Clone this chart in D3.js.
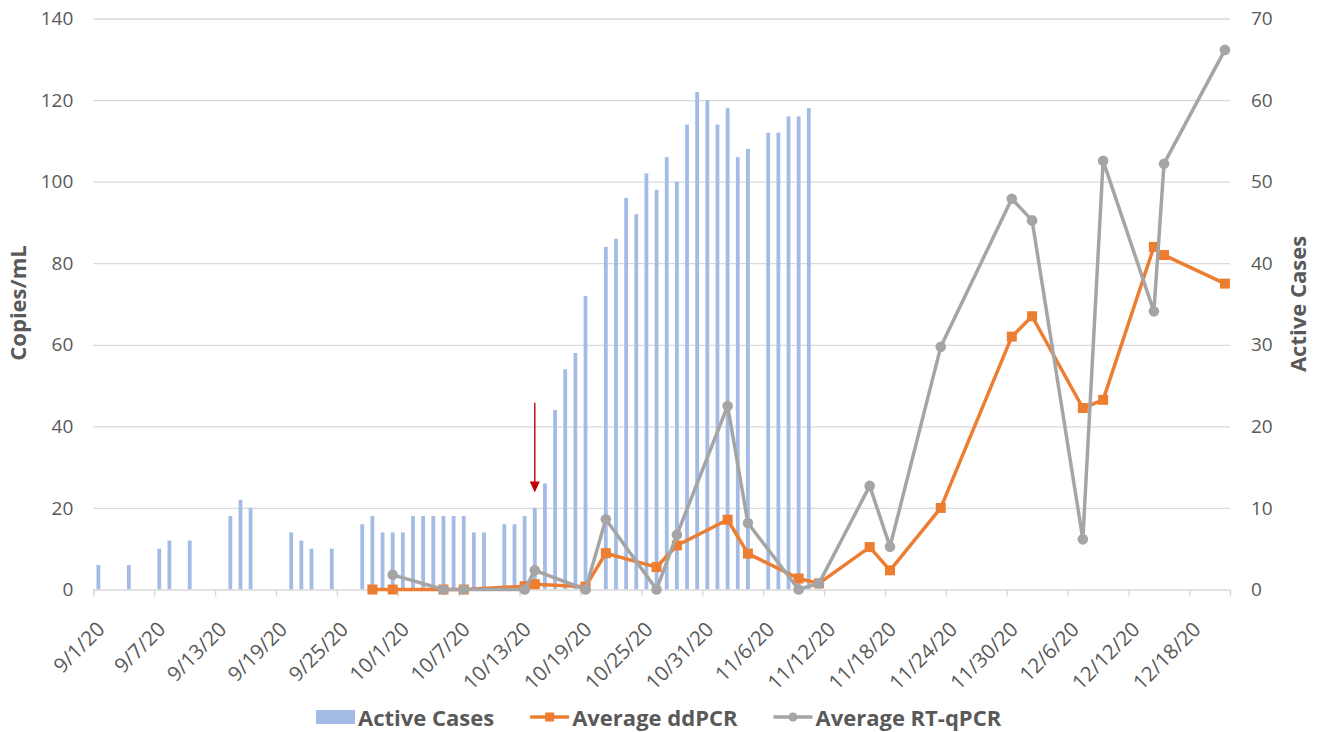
<!DOCTYPE html>
<html>
<head>
<meta charset="utf-8">
<script src="https://cdn.jsdelivr.net/npm/d3@7"></script>
<style>
  body { margin: 0; background: #fff; }
  svg { font-family: "Open Sans", sans-serif; }
</style>
</head>
<body>
<svg id="chart" width="1323" height="732"></svg>
<script>
// active cases (right axis, bars)
var caseDates = ["9/1/20","9/4/20","9/7/20","9/8/20","9/10/20","9/14/20","9/15/20","9/16/20",
  "9/20/20","9/21/20","9/22/20","9/24/20","9/27/20","9/28/20","9/29/20","9/30/20",
  "10/1/20","10/2/20","10/3/20","10/4/20","10/5/20","10/6/20","10/7/20","10/8/20","10/9/20",
  "10/11/20","10/12/20","10/13/20","10/14/20","10/15/20","10/16/20","10/17/20","10/18/20","10/19/20",
  "10/21/20","10/22/20","10/23/20","10/24/20","10/25/20","10/26/20","10/27/20","10/28/20","10/29/20",
  "10/30/20","10/31/20","11/1/20","11/2/20","11/3/20","11/4/20","11/6/20","11/7/20","11/8/20",
  "11/9/20","11/10/20"];
var activeCases = [3,3,5,6,6,9,11,10,
  7,6,5,5,8,9,7,7,
  7,9,9,9,9,9,9,7,7,
  8,8,9,10,13,22,27,29,36,
  42,43,48,46,51,49,53,50,57,
  61,60,57,59,53,54,56,56,58,
  58,59];

// Average ddPCR (left axis)
var ddDates = ["9/28/20","9/30/20","10/5/20","10/7/20","10/13/20","10/14/20","10/19/20","10/21/20",
  "10/26/20","10/28/20","11/2/20","11/4/20","11/9/20","11/11/20","11/16/20","11/18/20",
  "11/23/20","11/30/20","12/2/20","12/7/20","12/9/20","12/14/20","12/15/20","12/21/20"];
var ddPCR = [0,0,0,0,0.8,1.3,0.7,8.9,
  5.5,10.8,17.1,8.8,2.7,1.5,10.4,4.7,
  20,62,67,44.5,46.5,84,82,75];

// Average RT-qPCR (left axis)
var rtDates = ["9/30/20","10/5/20","10/7/20","10/13/20","10/14/20","10/19/20","10/21/20",
  "10/26/20","10/28/20","11/2/20","11/4/20","11/9/20","11/11/20","11/16/20","11/18/20",
  "11/23/20","11/30/20","12/2/20","12/7/20","12/9/20","12/14/20","12/15/20","12/21/20"];
var rtPCR = [3.6,0,0,0,4.7,0,17.2,
  0,13.4,45,16.3,0,1.5,25.4,10.5,
  59.5,95.8,90.5,12.3,105.1,68.2,104.4,132.3];

var leftTicks = [0,20,40,60,80,100,120,140];
var rightTicks = [0,10,20,30,40,50,60,70];
var xStart = "9/1/20", xEnd = "12/22/20";

// red arrow marker (date, from / to in copies/mL)
var arrowDate = "10/14/20", arrowFrom = 45.8, arrowTo = 23.8;

var legendNames = ["Active Cases", "Average ddPCR", "Average RT-qPCR"];

(function(){

    var parse = d3.utcParse("%m/%d/%y");
    var fmt = d3.utcFormat("%-m/%-d/%y");

    var plotLeft = 93.3, plotRight = 1230, plotTop = 18.5, plotBottom = 589.5;
    var blue = "#a3bbe5", orange = "#ed7d31", gray = "#a5a5a5", txt = "#595959", grid = "#d9d9d9";

    var svg = d3.select("svg#chart");

    var x = d3.scaleUtc().domain([parse(xStart), parse(xEnd)]).range([plotLeft, plotRight]);
    var yL = d3.scaleLinear().domain([0, 140]).range([plotBottom, plotTop]);
    var yR = d3.scaleLinear().domain([0, 70]).range([plotBottom, plotTop]);

    // center of a day
    function xc(d) { return x(d3.utcHour.offset(d, 12)); }

    // gridlines
    svg.append("g")
        .attr("transform", "translate(" + plotLeft + ",0)")
        .call(d3.axisLeft(yL).tickValues(leftTicks.slice(1)).tickSize(-(plotRight - plotLeft)).tickFormat(""))
        .call(g => g.select(".domain").remove())
        .selectAll("line").attr("stroke", grid).attr("stroke-width", 1.3);

    // left axis labels
    svg.append("g")
        .attr("transform", "translate(" + (plotLeft - 20) + ",0)")
        .call(d3.axisLeft(yL).tickValues(leftTicks).tickSize(0).tickPadding(0))
        .call(g => g.select(".domain").remove())
        .selectAll("text")
        .attr("fill", txt).style("font-size", "19px").attr("font-family", "Open Sans");

    // right axis labels
    svg.append("g")
        .attr("transform", "translate(" + (plotRight + 21) + ",0)")
        .call(d3.axisRight(yR).tickValues(rightTicks).tickSize(0).tickPadding(0))
        .call(g => g.select(".domain").remove())
        .selectAll("text")
        .attr("fill", txt).style("font-size", "19px").attr("font-family", "Open Sans");

    // bars
    var bars = caseDates.map((d, i) => ({date: parse(d), v: activeCases[i]}));
    svg.append("g")
        .selectAll("rect")
        .data(bars)
        .enter()
        .append("rect")
        .attr("x", d => xc(d.date) - 1.9)
        .attr("width", 3.8)
        .attr("y", d => yR(d.v))
        .attr("height", d => yR(0) - yR(d.v))
        .attr("fill", blue);

    // x axis
    var tickDates = d3.utcDay.range(parse(xStart), parse(xEnd), 6);
    var dayW = x(parse("9/2/20")) - x(parse("9/1/20"));
    var xAxis = svg.append("g")
        .attr("transform", "translate(0," + plotBottom + ")")
        .call(d3.axisBottom(x).tickValues(tickDates).tickSize(7).tickFormat(fmt));
    xAxis.select(".domain").attr("stroke", grid).attr("stroke-width", 1.3);
    xAxis.selectAll("line").attr("stroke", grid).attr("stroke-width", 1.3);
    xAxis.selectAll("text")
        .attr("x", 0).attr("y", 0).attr("dy", "0.35em")
        .attr("text-anchor", "end")
        .attr("transform", "translate(" + (dayW / 2 + 2) + ",36) rotate(-45)")
        .attr("fill", txt).style("font-size", "20.5px").attr("font-family", "Open Sans");

    // lines
    var ddData = ddDates.map((d, i) => ({date: parse(d), v: ddPCR[i]}));
    var rtData = rtDates.map((d, i) => ({date: parse(d), v: rtPCR[i]}));
    var line = d3.line()
        .x(d => xc(d.date))
        .y(d => yL(d.v));

    svg.append("path")
        .datum(ddData)
        .attr("d", line)
        .style("fill", "none")
        .style("stroke", orange)
        .style("stroke-width", 3.5)
        .style("stroke-linejoin", "round");

    svg.append("g")
        .selectAll("rect")
        .data(ddData)
        .enter()
        .append("rect")
        .attr("x", d => xc(d.date) - 5)
        .attr("y", d => yL(d.v) - 5)
        .attr("width", 10)
        .attr("height", 10)
        .attr("fill", orange);

    svg.append("path")
        .datum(rtData)
        .attr("d", line)
        .style("fill", "none")
        .style("stroke", gray)
        .style("stroke-width", 3.5)
        .style("stroke-linejoin", "round");

    svg.append("g")
        .selectAll("circle")
        .data(rtData)
        .enter()
        .append("circle")
        .attr("cx", d => xc(d.date))
        .attr("cy", d => yL(d.v))
        .attr("r", 5.3)
        .attr("fill", gray);

    // red arrow
    var ax = xc(parse(arrowDate));
    svg.append("line")
        .attr("x1", ax).attr("x2", ax)
        .attr("y1", yL(arrowFrom)).attr("y2", yL(arrowTo) - 10)
        .attr("stroke", "#c00000")
        .attr("stroke-width", 1.4);
    svg.append("path")
        .attr("d", "M" + (ax - 5) + "," + (yL(arrowTo) - 11) + "L" + (ax + 5) + "," + (yL(arrowTo) - 11) + "L" + ax + "," + yL(arrowTo) + "Z")
        .attr("fill", "#c00000");

    // axis titles
    svg.append("text")
        .attr("transform", "translate(26,303) rotate(-90)")
        .attr("text-anchor", "middle")
        .attr("fill", txt)
        .style("font-size", "22px")
        .style("font-weight", "bold")
        .text("Copies/mL");

    svg.append("text")
        .attr("transform", "translate(1297,304) rotate(-90)")
        .attr("text-anchor", "middle")
        .attr("dominant-baseline", "central")
        .attr("fill", txt)
        .style("font-size", "22px")
        .style("font-weight", "bold")
        .text("Active Cases");

    // legend
    var lg = svg.append("g");
    var cx = 316, ly = 717;
    legendNames.forEach(function(name, i) {
        if (i == 0) {
            lg.append("rect").attr("x", cx).attr("y", ly - 7).attr("width", 39).attr("height", 14).attr("fill", blue);
        } else {
            var c = i == 1 ? orange : gray;
            lg.append("line").attr("x1", cx).attr("x2", cx + 39).attr("y1", ly).attr("y2", ly)
                .attr("stroke", c).attr("stroke-width", 3.5);
            if (i == 1)
                lg.append("rect").attr("x", cx + 15).attr("y", ly - 4.5).attr("width", 9).attr("height", 9).attr("fill", c);
            else
                lg.append("circle").attr("cx", cx + 19.5).attr("cy", ly).attr("r", 4.5).attr("fill", c);
        }
        var t = lg.append("text")
            .attr("x", cx + 42).attr("y", ly)
            .attr("dominant-baseline", "central")
            .attr("fill", txt)
            .style("font-size", "22px")
            .style("font-weight", "bold")
            .text(name);
        cx += 42 + t.node().getComputedTextLength() + 36;
    });

})();
</script>
</body>
</html>
